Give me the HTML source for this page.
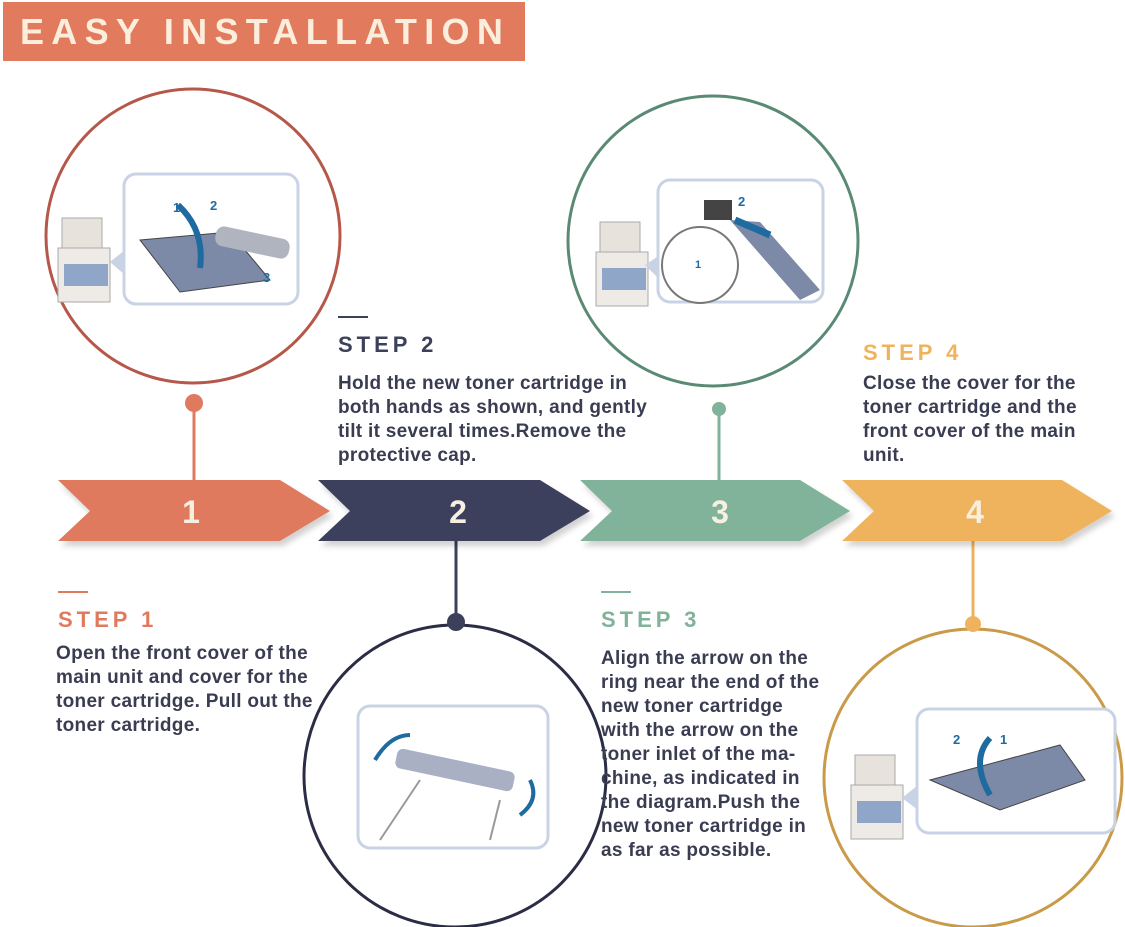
<!DOCTYPE html>
<html><head><meta charset="utf-8"><style>
body{margin:0;background:#fff;}
svg{display:block;font-family:"Liberation Sans",Arial,sans-serif;}
.b{font-size:19px;font-weight:bold;fill:#3a3c52;letter-spacing:0.3px;}
.t{font-size:22px;font-weight:bold;letter-spacing:4px;}
.n{font-size:32px;font-weight:bold;fill:#f7efe0;text-anchor:middle;}
</style></head><body>
<svg width="1125" height="927" viewBox="0 0 1125 927">
<defs>
<filter id="sh" x="-5%" y="-20%" width="110%" height="150%"><feDropShadow dx="3" dy="5" stdDeviation="3" flood-color="#000" flood-opacity="0.18"/></filter>
<g id="mach">
<rect x="0" y="0" width="40" height="30" fill="#e8e2dc" stroke="#aaa"/>
<rect x="-4" y="30" width="52" height="54" fill="#eeeae6" stroke="#aaa"/>
<rect x="2" y="46" width="44" height="22" fill="#8fa6c8"/>
</g>
</defs>
<rect x="3" y="2" width="522" height="59" fill="#e27b5e"/>
<text x="20" y="44" font-size="36" font-weight="bold" fill="#fbeedc" letter-spacing="7.3">EASY INSTALLATION</text>

<circle cx="193" cy="236" r="147" fill="#fff" stroke="#b5584a" stroke-width="3"/>
<circle cx="713" cy="241" r="145" fill="#fff" stroke="#5a8a74" stroke-width="3"/>
<circle cx="455" cy="776" r="151" fill="#fff" stroke="#2b2d44" stroke-width="3"/>
<circle cx="973" cy="778" r="149" fill="#fff" stroke="#c99a48" stroke-width="3"/>

<g>
<use href="#mach" x="62" y="218"/>
<path d="M110 262 L125 250 L125 275 Z" fill="#c9d3e6"/>
<rect x="124" y="174" width="174" height="130" rx="12" fill="#fff" stroke="#c9d3e6" stroke-width="3"/>
<path d="M140 240 L230 232 L270 280 L180 292 Z" fill="#7c8aa8" stroke="#444"/>
<rect x="215" y="232" width="75" height="20" rx="8" fill="#b0b4be" transform="rotate(12 250 242)"/>
<path d="M178 205 Q205 230 200 268" stroke="#1f6ba0" stroke-width="6" fill="none"/>
<text x="173" y="212" fill="#1f6ba0" font-size="13" font-weight="bold">1</text>
<text x="210" y="210" fill="#1f6ba0" font-size="13" font-weight="bold">2</text>
<text x="263" y="282" fill="#1f6ba0" font-size="13" font-weight="bold">3</text>
</g>
<g>
<use href="#mach" x="600" y="222"/>
<path d="M645 265 L660 255 L660 280 Z" fill="#c9d3e6"/>
<rect x="658" y="180" width="165" height="122" rx="12" fill="#fff" stroke="#c9d3e6" stroke-width="3"/>
<path d="M730 220 L760 222 L820 290 L800 300 Z" fill="#7c8aa8"/>
<rect x="704" y="200" width="28" height="20" fill="#444"/>
<path d="M770 235 L735 220" stroke="#1f6ba0" stroke-width="7"/>
<circle cx="700" cy="265" r="38" fill="#fff" stroke="#777" stroke-width="2"/>
<text x="738" y="206" fill="#1f6ba0" font-size="13" font-weight="bold">2</text>
<text x="695" y="268" fill="#1f6ba0" font-size="11" font-weight="bold">1</text>
</g>
<g>
<rect x="358" y="706" width="190" height="142" rx="12" fill="#fff" stroke="#c9d3e6" stroke-width="3"/>
<rect x="395" y="760" width="120" height="20" rx="6" fill="#a9b0c4" transform="rotate(12 455 770)"/>
<path d="M375 760 Q390 735 410 735" stroke="#1f6ba0" stroke-width="4" fill="none"/>
<path d="M520 815 Q540 800 530 780" stroke="#1f6ba0" stroke-width="4" fill="none"/>
<path d="M380 840 L420 780 M490 840 L500 800" stroke="#999" stroke-width="2"/>
</g>
<g>
<use href="#mach" x="855" y="755"/>
<path d="M902 798 L918 785 L918 810 Z" fill="#c9d3e6"/>
<rect x="917" y="709" width="198" height="124" rx="12" fill="#fff" stroke="#c9d3e6" stroke-width="3"/>
<path d="M930 780 L1060 745 L1085 780 L1000 810 Z" fill="#7c8aa8" stroke="#444"/>
<path d="M990 795 Q970 760 990 738" stroke="#1f6ba0" stroke-width="6" fill="none"/>
<text x="953" y="744" fill="#1f6ba0" font-size="13" font-weight="bold">2</text>
<text x="1000" y="744" fill="#1f6ba0" font-size="13" font-weight="bold">1</text>
</g>

<line x1="194" y1="403" x2="194" y2="482" stroke="#e07a5f" stroke-width="3"/>
<circle cx="194" cy="403" r="9" fill="#e07a5f"/>
<line x1="719" y1="409" x2="719" y2="482" stroke="#81b29a" stroke-width="3"/>
<circle cx="719" cy="409" r="7" fill="#81b29a"/>
<line x1="456" y1="540" x2="456" y2="622" stroke="#3d405b" stroke-width="3"/>
<circle cx="456" cy="622" r="9" fill="#3d405b"/>
<line x1="973" y1="540" x2="973" y2="624" stroke="#f0b35d" stroke-width="3"/>
<circle cx="973" cy="624" r="8" fill="#f0b35d"/>

<g filter="url(#sh)">
<path d="M58 480 L280 480 L330 511 L280 541 L58 541 L90 511 Z" fill="#e07a5f"/>
<path d="M318 480 L540 480 L590 511 L540 541 L318 541 L350 511 Z" fill="#3d405b"/>
<path d="M580 480 L800 480 L850 511 L800 541 L580 541 L612 511 Z" fill="#81b29a"/>
<path d="M842 480 L1062 480 L1112 511 L1062 541 L842 541 L874 511 Z" fill="#f0b35d"/>
</g>
<text class="n" x="191" y="523">1</text>
<text class="n" x="458" y="523">2</text>
<text class="n" x="720" y="523">3</text>
<text class="n" x="975" y="523">4</text>

<rect x="338" y="316" width="30" height="2" fill="#3d405b"/>
<text class="t" x="338" y="352" fill="#3d405b">STEP 2</text>
<text class="b"><tspan x="338" y="389">Hold the new toner cartridge in</tspan><tspan x="338" y="413">both hands as shown, and gently</tspan><tspan x="338" y="437">tilt it several times.Remove the</tspan><tspan x="338" y="461">protective cap.</tspan></text>

<text class="t" x="863" y="360" fill="#f0b35d">STEP 4</text>
<text class="b"><tspan x="863" y="389">Close the cover for the</tspan><tspan x="863" y="413">toner cartridge and the</tspan><tspan x="863" y="437">front cover of the main</tspan><tspan x="863" y="461">unit.</tspan></text>

<rect x="58" y="591" width="30" height="2" fill="#e07a5f"/>
<text class="t" x="58" y="627" fill="#e07a5f">STEP 1</text>
<text class="b"><tspan x="56" y="659">Open the front cover of the</tspan><tspan x="56" y="683">main unit and cover for the</tspan><tspan x="56" y="707">toner cartridge. Pull out the</tspan><tspan x="56" y="731">toner cartridge.</tspan></text>

<rect x="601" y="591" width="30" height="2" fill="#81b29a"/>
<text class="t" x="601" y="627" fill="#81b29a">STEP 3</text>
<text class="b"><tspan x="601" y="664">Align the arrow on the</tspan><tspan x="601" y="688">ring near the end of the</tspan><tspan x="601" y="712">new toner cartridge</tspan><tspan x="601" y="736">with the arrow on the</tspan><tspan x="601" y="760">toner inlet of the ma-</tspan><tspan x="601" y="784">chine, as indicated in</tspan><tspan x="601" y="808">the diagram.Push the</tspan><tspan x="601" y="832">new toner cartridge in</tspan><tspan x="601" y="856">as far as possible.</tspan></text>
</svg>
</body></html>
